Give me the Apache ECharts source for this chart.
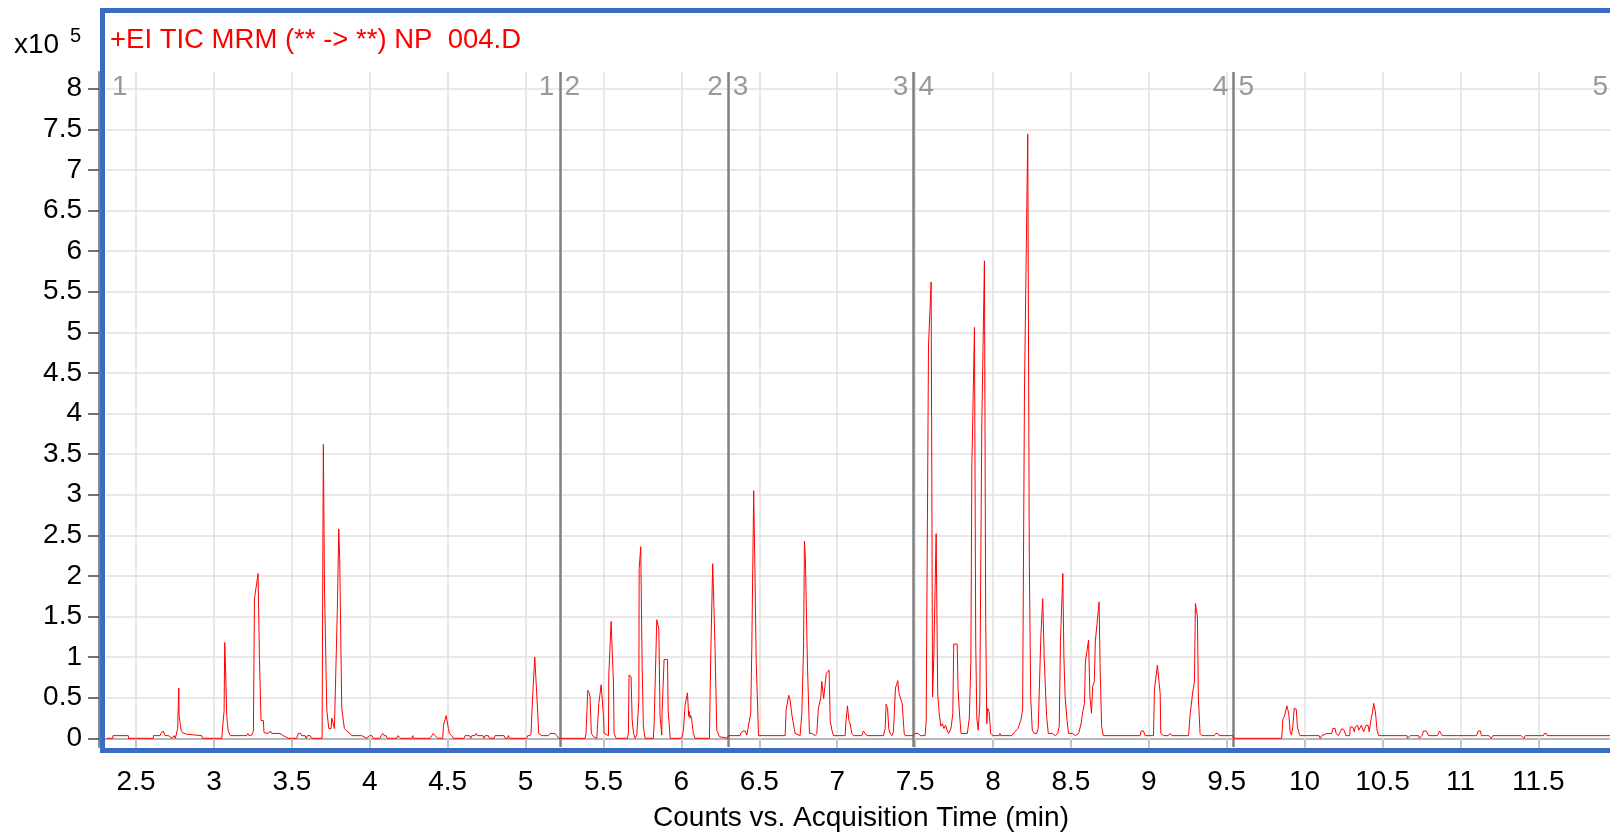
<!DOCTYPE html>
<html>
<head>
<meta charset="utf-8">
<title>TIC chromatogram</title>
<style>
  html, body { margin: 0; padding: 0; background: #ffffff; }
  #chart { width: 1610px; height: 835px; }
</style>
<script src="https://cdn.jsdelivr.net/npm/echarts@6.0.0/dist/echarts.min.js"></script>
</head>
<body>
<div id="chart"></div>
<script>
// Total ion current, counts in units of 1e5, one [time (min), counts] pair per sample.
// Acquisition segment 1
const segment1 = [
  [2.312,0],[2.350,0],[2.352,0.033],[2.450,0.033],[2.452,0],
  [2.610,0],[2.612,0.033],[2.654,0.033],[2.660,0.06],[2.675,0.09],[2.686,0.033],[2.708,0.033],[2.712,0.01],[2.731,0],[2.744,0.033],[2.752,0],[2.759,0],
  [2.767,0.12],[2.774,0.62],[2.776,0.28],[2.782,0.27],[2.789,0.10],[2.797,0.07],[2.825,0.05],[2.829,0.033],[2.921,0.033],[2.926,0],
  [3.050,0],[3.056,0.14],[3.065,0.34],[3.069,1.18],[3.073,0.95],[3.082,0.28],[3.087,0.16],[3.092,0.09],[3.098,0.07],[3.105,0.033],
  [3.210,0.033],[3.217,0.06],[3.225,0.033],[3.242,0.04],[3.253,0.09],[3.260,1.72],[3.283,2.03],[3.292,0.96],[3.302,0.22],[3.317,0.22],[3.321,0.07],[3.349,0.06],[3.362,0.09],[3.371,0.06],[3.424,0.06],[3.445,0.033],[3.478,0],
  [3.531,0],[3.541,0.06],[3.557,0.06],[3.563,0.033],[3.585,0.033],[3.591,0],[3.600,0.033],[3.617,0.033],[3.628,0],
  [3.694,0],[3.698,1.93],[3.702,3.62],[3.709,1.90],[3.724,0.35],[3.737,0.12],[3.752,0.12],[3.756,0.25],[3.767,0.26],[3.773,0.12],[3.784,0.12],[3.792,1.60],[3.801,2.58],[3.807,2.20],[3.820,0.37],[3.837,0.12],[3.852,0.09],[3.869,0.07],[3.884,0.033],[3.948,0.033],[3.981,0],
  [3.998,0.033],[4.013,0.033],[4.023,0],[4.066,0],[4.073,0.033],[4.083,0.06],[4.092,0.033],[4.105,0.033],[4.113,0],[4.173,0],[4.180,0.033],[4.190,0.033],[4.199,0],[4.269,0],[4.276,0.033],[4.280,0],
  [4.387,0],[4.398,0.033],[4.408,0.06],[4.419,0.033],[4.430,0.033],[4.436,0],[4.468,0],[4.473,0.16],[4.490,0.28],[4.505,0.12],[4.511,0.06],[4.526,0.033],[4.537,0],
  [4.605,0],[4.612,0.033],[4.640,0.033],[4.648,0],[4.655,0.033],[4.676,0.033],[4.683,0.06],[4.691,0.033],[4.725,0.033],[4.734,0],[4.740,0.033],[4.761,0.033],[4.768,0],[4.798,0],[4.804,0.033],[4.862,0.033],[4.868,0],[4.883,0],[4.890,0.033],[4.896,0],
  [5.007,0],[5.014,0.033],[5.029,0.033],[5.035,0.06],[5.044,0.47],[5.059,1.00],[5.078,0.31],[5.084,0.06],[5.104,0.033],[5.147,0.033],[5.157,0.06],[5.189,0.06],[5.200,0.033],[5.213,0]
];

// Acquisition segment 2
const segment2 = [
  [5.221,0],[5.382,0],[5.388,0.06],[5.399,0.59],[5.408,0.56],[5.414,0.51],[5.422,0.06],[5.435,0.02],[5.457,0],[5.470,0.43],[5.485,0.66],[5.500,0.27],[5.504,0.06],
  [5.532,0.033],[5.534,0.78],[5.549,1.44],[5.564,0.68],[5.568,0.06],[5.581,0],[5.654,0],[5.660,0.06],[5.664,0.78],[5.677,0.76],[5.684,0.23],[5.693,0.06],[5.703,0],
  [5.714,0.04],[5.727,0.47],[5.729,2.09],[5.739,2.36],[5.748,0.90],[5.756,0.14],[5.767,0],[5.820,0],[5.825,0.18],[5.842,1.46],[5.855,1.35],[5.863,0.27],[5.874,0.04],
  [5.876,0.31],[5.889,0.97],[5.911,0.97],[5.915,0.35],[5.928,0],[6.003,0],[6.013,0.10],[6.024,0.41],[6.039,0.56],[6.047,0.27],[6.051,0.33],[6.056,0.25],[6.060,0.28],[6.066,0.23],[6.077,0.06],[6.088,0],
  [6.180,0],[6.189,1.07],[6.201,2.15],[6.216,1.11],[6.227,0.10],[6.244,0.02],[6.296,0]
];

// Acquisition segment 3
const segment3 = [
  [6.302,0.033],[6.377,0.033],[6.381,0.06],[6.394,0.09],[6.409,0.09],[6.420,0.04],[6.430,0.06],[6.445,0.31],[6.452,1.13],[6.464,3.05],[6.471,2.20],[6.480,0.96],[6.495,0.033],
  [6.666,0.033],[6.672,0.35],[6.689,0.53],[6.698,0.47],[6.709,0.29],[6.719,0.18],[6.730,0.06],[6.762,0.033],[6.773,0.31],[6.784,1.10],[6.790,2.43],[6.796,2.20],[6.809,0.90],[6.822,0.06],[6.837,0.06],
  [6.858,0.033],[6.869,0.06],[6.879,0.37],[6.894,0.49],[6.901,0.70],[6.908,0.68],[6.913,0.49],[6.923,0.51],[6.930,0.80],[6.948,0.84],[6.955,0.22],[6.966,0.10],[6.976,0.033],
  [7.051,0.033],[7.055,0.18],[7.066,0.40],[7.075,0.22],[7.083,0.18],[7.094,0.06],[7.105,0.033],[7.158,0.033],[7.168,0.09],[7.179,0.09],[7.190,0.033],
  [7.297,0.033],[7.308,0.12],[7.314,0.42],[7.323,0.37],[7.331,0.12],[7.340,0.06],[7.351,0.033],[7.361,0.08],[7.374,0.62],[7.389,0.71],[7.397,0.55],[7.404,0.56],[7.417,0.43],[7.430,0.06],[7.436,0.033],[7.485,0.033]
];

// Acquisition segment 4
const segment4 = [
  [7.493,0.033],[7.500,0.06],[7.521,0.06],[7.532,0.033],[7.564,0.033],[7.571,0.20],[7.586,4.84],[7.603,5.62],[7.612,0.51],[7.620,1.00],[7.635,2.52],[7.645,0.55],[7.655,0.30],
  [7.665,0.15],[7.675,0.18],[7.685,0.12],[7.695,0.16],[7.705,0.10],[7.715,0.06],[7.730,0.12],[7.742,0.30],[7.748,1.16],[7.770,1.16],[7.776,0.60],[7.785,0.30],[7.795,0.06],[7.835,0.06],
  [7.848,0.25],[7.858,0.95],[7.864,3.33],[7.881,5.06],[7.889,1.20],[7.896,0.25],[7.905,0.10],[7.915,0.40],[7.928,3.85],[7.945,5.88],[7.953,1.50],[7.960,0.18],[7.966,0.37],[7.975,0.33],[7.985,0.06],
  [8.000,0.033],[8.040,0.033],[8.045,0.06],[8.050,0.033],[8.120,0.033],[8.140,0.08],[8.160,0.12],[8.178,0.22],[8.190,0.35],[8.202,4.29],[8.223,7.44],[8.233,2.20],[8.242,0.50],[8.252,0.10],[8.265,0.06],
  [8.280,0.06],[8.290,0.12],[8.307,1.25],[8.319,1.72],[8.329,0.96],[8.344,0.27],[8.355,0.06],[8.380,0.06],[8.400,0.033],[8.415,0.06],[8.425,0.15],[8.433,1.20],[8.448,2.03],[8.455,1.00],[8.463,0.51],[8.475,0.22],[8.485,0.06],
  [8.510,0.06],[8.530,0.033],[8.550,0.06],[8.565,0.18],[8.576,0.33],[8.587,0.43],[8.593,0.94],[8.613,1.21],[8.622,0.51],[8.632,0.31],[8.640,0.64],[8.650,0.70],[8.657,1.20],[8.681,1.68],[8.687,0.92],[8.697,0.15],[8.708,0.033],
  [8.944,0.033],[8.951,0.09],[8.966,0.09],[8.976,0.033],[9.030,0.033],[9.036,0.60],[9.055,0.90],[9.073,0.55],[9.077,0.06],[9.094,0.033],[9.126,0.033],[9.137,0.06],[9.148,0.033],
  [9.255,0.033],[9.265,0.29],[9.282,0.57],[9.293,0.70],[9.299,1.66],[9.312,1.50],[9.318,0.51],[9.329,0.06],[9.340,0.033],[9.421,0.033],[9.430,0.06],[9.443,0.06],[9.451,0.033],[9.539,0.033]
];

// Acquisition segment 5
const segment5 = [
  [9.547,0],[9.853,0],[9.860,0.23],[9.870,0.27],[9.886,0.40],[9.898,0.31],[9.907,0.08],[9.916,0.04],[9.924,0.14],[9.933,0.37],[9.946,0.36],[9.954,0.14],[9.965,0.06],[9.971,0.033],
  [10.093,0.033],[10.100,0],[10.110,0.033],[10.142,0.06],[10.174,0.06],[10.181,0.12],[10.196,0.12],[10.202,0.06],[10.217,0.033],[10.228,0.08],[10.239,0.12],[10.254,0.10],[10.265,0.033],
  [10.289,0.033],[10.293,0.14],[10.308,0.14],[10.319,0.08],[10.325,0.14],[10.340,0.16],[10.347,0.10],[10.353,0.08],[10.364,0.16],[10.379,0.08],[10.389,0.10],[10.394,0.16],[10.407,0.16],[10.415,0.08],
  [10.426,0.23],[10.435,0.31],[10.443,0.43],[10.454,0.33],[10.465,0.10],[10.475,0.033],[10.657,0.033],[10.661,0],[10.678,0.033],[10.732,0.033],[10.736,0],[10.753,0.033],[10.764,0.09],[10.781,0.09],[10.796,0.033],
  [10.853,0.033],[10.866,0.09],[10.883,0.033],[11.104,0.033],[11.114,0.09],[11.129,0.09],[11.134,0.033],[11.183,0.033],[11.198,0],[11.208,0.033],[11.390,0.033],[11.407,0],[11.416,0.033],
  [11.534,0.033],[11.538,0.06],[11.551,0.06],[11.556,0.033],[11.961,0.033]
];

// Segment switch times (min) and segment numbers
const segmentBounds = [5.217, 6.298, 7.489, 9.543];
const segmentNames = ['1', '2', '3', '4', '5'];

// Axis extents and tick labels
const timeRange = [2.307, 11.960];
const countRange = [-0.107, 8.206];
const timeTicks = [2.5, 3, 3.5, 4, 4.5, 5, 5.5, 6, 6.5, 7, 7.5, 8, 8.5, 9, 9.5, 10, 10.5, 11, 11.5];
const countTicks = [0, 0.5, 1, 1.5, 2, 2.5, 3, 3.5, 4, 4.5, 5, 5.5, 6, 6.5, 7, 7.5, 8];

const traceTitle = '+EI TIC MRM (** -> **) NP  004.D';
const timeAxisName = 'Counts vs. Acquisition Time (min)';
const countScaleBase = 'x10';
const countScaleExp = '5';

const FONT = '"Liberation Sans", Arial, Helvetica, sans-serif';
const trace = [].concat(segment1, segment2, segment3, segment4, segment5);

// Segment numbers sit just below the top of the plot, on both sides of each switch line
const labelLevel = 8.015;
const segmentLabels = [];
segmentLabels.push({ value: [timeRange[0], labelLevel, segmentNames[0]], label: { position: 'right', distance: 6 } });
segmentBounds.forEach(function (b, i) {
  segmentLabels.push({ value: [b, labelLevel, segmentNames[i]], label: { position: 'left', distance: 5 } });
  segmentLabels.push({ value: [b, labelLevel, segmentNames[i + 1]], label: { position: 'right', distance: 5 } });
});
segmentLabels.push({ value: [timeRange[1], labelLevel, segmentNames[segmentNames.length - 1]], label: { position: 'left', distance: 2 } });

const chart = echarts.init(document.getElementById('chart'), null, { renderer: 'canvas' });

chart.setOption({
  animation: false,
  backgroundColor: '#ffffff',
  textStyle: { fontFamily: FONT },
  grid: { left: 106, right: 0, top: 72, bottom: 88, containLabel: false, outerBoundsMode: 'none' },
  xAxis: {
    type: 'value',
    min: timeRange[0],
    max: timeRange[1],
    position: 'bottom',
    offset: 10,
    axisLine: { show: true, lineStyle: { color: '#000000', width: 1.5 } },
    axisTick: { show: true, customValues: timeTicks, length: 9, lineStyle: { color: '#333333', width: 1.5 } },
    axisLabel: { customValues: timeTicks, fontSize: 28, color: '#000000', margin: 11, fontFamily: FONT },
    splitLine: { show: false }
  },
  yAxis: {
    type: 'value',
    min: countRange[0],
    max: countRange[1],
    offset: 7,
    axisLine: { show: true, lineStyle: { color: '#8a8a8a', width: 2 } },
    axisTick: { show: true, customValues: countTicks, length: 11, lineStyle: { color: '#444444', width: 1.5 } },
    axisLabel: { customValues: countTicks, fontSize: 28, color: '#000000', margin: 17, fontFamily: FONT },
    splitLine: { show: false }
  },
  graphic: [
    {
      type: 'rect',
      silent: true,
      z: 100,
      shape: { x: 102.5, y: 10.5, width: 1530, height: 740 },
      style: { fill: 'none', stroke: '#3a6cc5', lineWidth: 5 }
    },
    {
      type: 'text',
      silent: true,
      z: 100,
      style: { x: 110, y: 40, text: traceTitle, font: '27.5px ' + FONT, fill: '#ff0000', verticalAlign: 'middle' }
    },
    {
      type: 'text',
      silent: true,
      z: 100,
      style: { x: 14, y: 45, text: countScaleBase, font: '28px ' + FONT, fill: '#000000', verticalAlign: 'middle' }
    },
    {
      type: 'text',
      silent: true,
      z: 100,
      style: { x: 70, y: 36, text: countScaleExp, font: '20px ' + FONT, fill: '#000000', verticalAlign: 'middle' }
    },
    {
      // horizontal axis title
      type: 'text',
      silent: true,
      z: 100,
      style: { x: 861, y: 818, text: timeAxisName, font: '28px ' + FONT, fill: '#000000', align: 'center', verticalAlign: 'middle' }
    }
  ],
  series: [
    {
      // grid lines at the tick positions
      name: 'grid',
      type: 'line',
      data: [],
      silent: true,
      z: 1,
      markLine: {
        silent: true,
        symbol: ['none', 'none'],
        label: { show: false },
        lineStyle: { color: '#e1e1e1', width: 1.5, type: 'solid' },
        emphasis: { disabled: true },
        data: timeTicks.map(function (v) { return { xAxis: v }; })
          .concat(countTicks.map(function (v) { return { yAxis: v }; }))
      }
    },
    {
      // acquisition segment switches
      name: 'segments',
      type: 'line',
      data: [],
      silent: true,
      z: 3,
      markLine: {
        silent: true,
        symbol: ['none', 'none'],
        label: { show: false },
        lineStyle: { color: '#808080', width: 2.5, type: 'solid' },
        emphasis: { disabled: true },
        data: segmentBounds.map(function (v) { return { xAxis: v }; })
      }
    },
    {
      name: 'TIC',
      type: 'line',
      data: trace,
      showSymbol: false,
      symbol: 'none',
      z: 5,
      silent: true,
      lineStyle: { color: '#ff0000', width: 1 },
      emphasis: { disabled: true }
    },
    {
      name: 'segment numbers',
      type: 'scatter',
      data: segmentLabels,
      symbolSize: 0,
      silent: true,
      z: 6,
      label: {
        show: true,
        formatter: function (p) { return p.value[2]; },
        fontSize: 28,
        color: '#808080',
        fontFamily: FONT
      }
    }
  ]
});
</script>
</body>
</html>
